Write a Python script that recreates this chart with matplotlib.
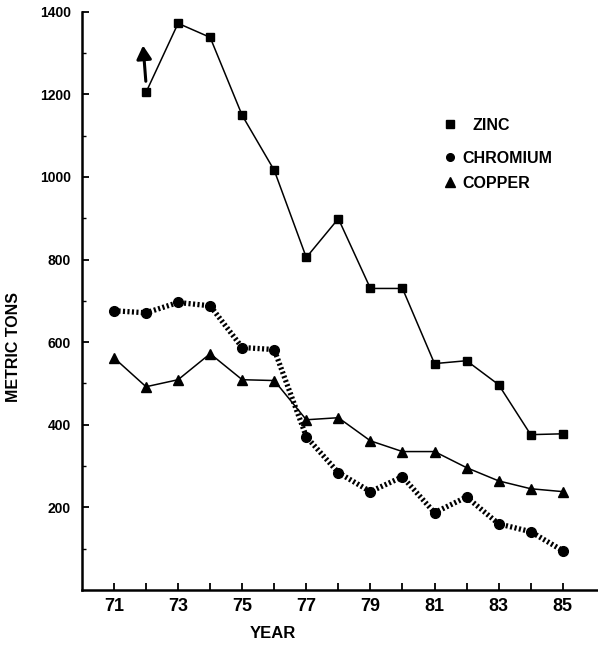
import matplotlib.pyplot as plt
import numpy as np

plt.rcParams['font.family'] = ['Liberation Sans', 'DejaVu Sans']
plt.rcParams['font.weight'] = 'bold'

years = np.arange(71, 86)
zinc = [np.nan, 1205, 1372, 1338, 1149, 1016, 805, 899, 730, 730, 548, 555, 497, 376, 378]
chromium = [676, 671, 696, 688, 587, 582, 371, 284, 238, 274, 187, 225, 160, 141, 95]
copper = [562, 492, 509, 572, 509, 507, 412, 417, 361, 335, 335, 296, 264, 245, 238]

# the stray arrow above 1972 in the original figure
arrow_tail = (72.0, 1225)
arrow_head = (71.9, 1325)

y_labels = ['200', '400', '600', '800', '1000', '1200', '1400']


def plot_metals():
    fig = plt.figure(figsize=(5.98, 6.54), dpi=100)
    ax = fig.add_axes([0.137, 0.098, 0.863, 0.884])

    ax.plot(years, zinc, color='black', lw=1.1, marker='s', ms=6,
            mfc='black', mec='black', clip_on=False)
    ax.plot(years, chromium, color='black', lw=3.8, dashes=(0.4, 0.45),
            marker='o', ms=7, mfc='black', mec='black', clip_on=False)
    ax.plot(years, copper, color='black', lw=1.1, marker='^', ms=7.5,
            mfc='black', mec='black', clip_on=False)

    ax.annotate('', xy=arrow_head, xytext=arrow_tail,
                arrowprops=dict(arrowstyle='-|>,head_length=0.8,head_width=0.45',
                                color='black', lw=2.2), annotation_clip=False)

    # legend drawn as marker + label, no lines
    leg_items = [('s', 'ZINC', 6, 0.806, 0.757),
                 ('o', 'CHROMIUM', 5.5, 0.749, 0.737),
                 ('^', 'COPPER', 6.5, 0.706, 0.737)]
    for m, name, s, yy, tx in leg_items:
        ax.plot([0.714], [yy], marker=m, ms=s, color='black',
                transform=ax.transAxes, clip_on=False)
        ax.text(tx, yy - 0.003, name, transform=ax.transAxes,
                fontsize=11.5, va='center', ha='left')

    ax.set_xlim(70.0, 86.1)
    ax.set_ylim(0, 1400)
    ax.set_xticks(years)
    ax.set_xticklabels([str(y) if y % 2 else '' for y in years], fontsize=13, fontweight='bold')
    ax.set_yticks([200, 400, 600, 800, 1000, 1200, 1400])
    ax.set_yticklabels(y_labels, fontsize=10, fontweight='bold')
    ax.set_yticks(np.arange(100, 1400, 200), minor=True)
    ax.tick_params(axis='both', which='major', direction='in', length=5, width=1.3, pad=8)
    ax.tick_params(axis='y', which='minor', direction='in', length=3, width=1.0)
    ax.tick_params(axis='x', pad=6)

    for side in ['top', 'right']:
        ax.spines[side].set_visible(False)
    ax.spines['left'].set_linewidth(1.8)
    ax.spines['bottom'].set_linewidth(1.8)

    ax.set_ylabel('METRIC TONS', fontsize=11.5, fontweight='bold')
    ax.yaxis.set_label_coords(-0.118, 0.42)
    ax.set_xlabel('YEAR', fontsize=12, fontweight='bold')
    ax.xaxis.set_label_coords(0.37, -0.062)

    fig.savefig('out.png', dpi=100)


if __name__ == '__main__':
    plot_metals()
